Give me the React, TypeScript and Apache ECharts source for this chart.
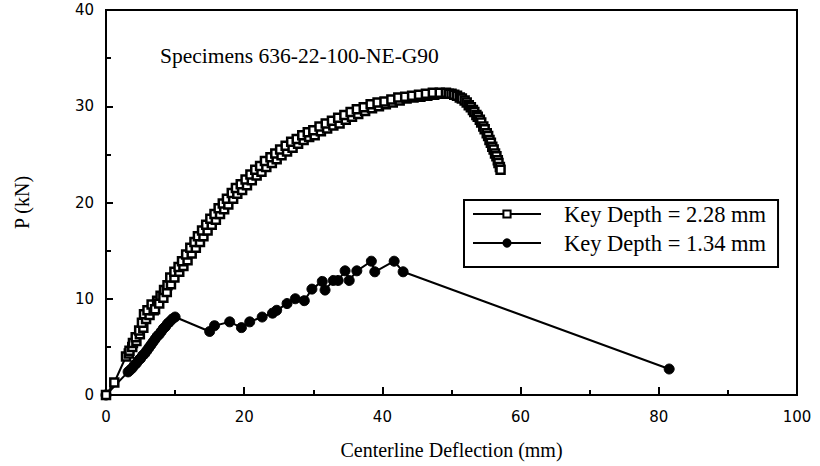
import React, { useEffect, useRef } from "react";
import * as echarts from "echarts";

const TITLE = "Specimens 636-22-100-NE-G90";
const X_NAME = "Centerline Deflection (mm)";
const Y_NAME = "P (kN)";
const SERIES_NAMES = ["Key Depth = 2.28 mm", "Key Depth = 1.34 mm"];

// Key Depth = 2.28 mm (open squares)
const s1x = [0, 1.2, 2.9, 3.3, 3.4, 3.8, 3.9, 4.4, 4.3, 4.9, 4.8, 5.4, 5.2, 5.8, 5.5, 6.3, 6.0, 6.9, 6.6, 7.1, 7.4, 7.7, 7.9, 8.3, 8.4, 8.8, 8.9, 9.4, 9.3, 9.9, 9.9, 10.6, 10.5, 11.2, 11.0, 11.8, 11.6, 12.4, 12.2, 13.0, 12.8, 13.6, 13.3, 14.1, 13.9, 14.7, 14.5, 15.3, 15.1, 15.9, 15.7, 16.5, 16.3, 17.1, 16.9, 17.7, 17.5, 18.4, 18.2, 19.0, 18.8, 19.7, 19.5, 20.4, 20.2, 21.1, 20.9, 21.8, 21.6, 22.5, 22.3, 23.2, 23.0, 24.0, 23.8, 24.7, 24.5, 25.4, 25.2, 26.2, 26.0, 27.0, 26.8, 27.8, 27.6, 28.6, 28.4, 29.4, 29.2, 30.2, 30.0, 31.1, 30.9, 32.0, 31.8, 32.9, 32.7, 33.8, 33.6, 34.7, 34.5, 35.6, 35.4, 36.5, 36.3, 37.5, 37.3, 38.5, 38.3, 39.5, 39.3, 40.5, 40.3, 41.5, 41.3, 42.5, 42.3, 43.5, 43.3, 44.5, 44.3, 45.5, 45.3, 46.5, 46.3, 47.5, 47.3, 48.5, 48.3, 49.2, 49.6, 50.0, 50.4, 50.8, 51.2, 51.5, 51.9, 52.2, 52.5, 52.8, 53.1, 53.3, 53.6, 53.8, 54.1, 54.3, 54.6, 54.8, 55.1, 55.3, 55.5, 55.7, 55.9, 56.1, 56.3, 56.5, 56.7, 56.8, 57.0, 57.1];
const s1y = [0, 1.3, 4.0, 4.3, 4.6, 5.0, 5.4, 5.6, 6.0, 6.3, 6.7, 7.0, 7.5, 7.9, 8.4, 8.3, 8.8, 8.8, 9.4, 8.9, 9.8, 9.5, 10.3, 10.1, 10.9, 10.7, 11.4, 11.5, 12.2, 12.2, 12.8, 12.8, 13.3, 13.4, 13.9, 14.0, 14.6, 14.7, 15.3, 15.3, 15.9, 15.9, 16.5, 16.5, 17.1, 17.1, 17.7, 17.7, 18.3, 18.2, 18.8, 18.8, 19.4, 19.3, 19.9, 19.8, 20.4, 20.4, 21.0, 20.9, 21.5, 21.3, 21.9, 21.8, 22.4, 22.3, 22.9, 22.8, 23.4, 23.2, 23.8, 23.7, 24.3, 24.1, 24.7, 24.5, 25.1, 24.9, 25.5, 25.3, 25.9, 25.7, 26.3, 26.1, 26.6, 26.5, 27.0, 26.8, 27.3, 27.0, 27.5, 27.4, 27.9, 27.7, 28.2, 28.0, 28.5, 28.2, 28.8, 28.6, 29.1, 28.9, 29.4, 29.2, 29.7, 29.5, 29.9, 29.8, 30.2, 30.0, 30.4, 30.2, 30.5, 30.4, 30.7, 30.6, 30.9, 30.8, 31.0, 30.9, 31.1, 31.0, 31.2, 31.1, 31.3, 31.2, 31.4, 31.3, 31.4, 31.4, 31.3, 31.3, 31.2, 31.1, 30.9, 30.8, 30.6, 30.4, 30.1, 29.9, 29.6, 29.4, 29.1, 28.9, 28.6, 28.3, 27.9, 27.6, 27.2, 26.9, 26.5, 26.2, 25.8, 25.5, 25.1, 24.8, 24.4, 24.1, 23.7, 23.4];

// Key Depth = 1.34 mm (filled circles)
const s2x = [0, 3.2, 3.5, 3.8, 4.1, 4.4, 4.7, 5.0, 5.3, 5.6, 5.9, 6.2, 6.5, 6.8, 7.1, 7.4, 7.7, 8.0, 8.3, 8.6, 8.9, 9.2, 9.6, 10.0, 15.0, 15.7, 17.9, 19.6, 20.8, 22.6, 24.1, 24.7, 26.2, 27.4, 28.7, 29.8, 31.3, 31.7, 32.9, 33.6, 34.6, 35.2, 36.3, 38.4, 38.9, 41.7, 43.0, 81.5];
const s2y = [0, 2.4, 2.6, 2.8, 3.1, 3.3, 3.6, 3.8, 4.1, 4.3, 4.6, 4.9, 5.2, 5.5, 5.8, 6.1, 6.3, 6.6, 6.9, 7.1, 7.4, 7.6, 7.9, 8.1, 6.6, 7.2, 7.6, 7.0, 7.6, 8.1, 8.5, 8.8, 9.5, 10.0, 9.8, 11.0, 11.8, 10.9, 11.9, 11.9, 12.9, 11.9, 12.9, 13.9, 12.8, 13.9, 12.8, 2.7];

const serif = "'Liberation Serif', 'Times New Roman', serif";
const sans = "'DejaVu Sans', sans-serif";

export default function App() {
  const ref = useRef<HTMLDivElement>(null);
  useEffect(() => {
    if (!ref.current) return;
    const chart = echarts.init(ref.current, null, { renderer: "svg" });
    const d1 = s1x.map((x, i) => [x, s1y[i]]);
    const d2 = s2x.map((x, i) => [x, s2y[i]]);
    chart.setOption({
      animation: false,
      backgroundColor: "#fff",
      grid: {
        left: 106,
        right: 23,
        top: 10,
        bottom: 71,
        outerBoundsMode: "none",
        containLabel: false,
        show: true,
        borderColor: "#000",
        borderWidth: 2,
        backgroundColor: "transparent",
      },
      graphic: [
        {
          type: "text",
          left: 160,
          top: 45,
          style: { text: TITLE, font: `21.5px ${serif}`, fill: "#000" },
        },
      ],
      legend: {
        orient: "vertical",
        left: 464,
        top: 200,
        padding: [1, 12, 11, 8],
        itemGap: 3,
        itemWidth: 68,
        itemHeight: 9,
        borderColor: "#000",
        borderWidth: 2,
        borderRadius: 0,
        textStyle: {
          fontFamily: serif,
          fontSize: 22.5,
          lineHeight: 26,
          color: "#000",
          padding: [0, 0, 0, 18],
        },
        data: SERIES_NAMES,
      },
      xAxis: {
        type: "value",
        min: 0,
        max: 100,
        interval: 20,
        name: X_NAME,
        nameLocation: "middle",
        nameGap: 45,
        nameTextStyle: { fontFamily: serif, fontSize: 20, color: "#000" },
        axisLine: { show: true, lineStyle: { color: "#000", width: 2 } },
        axisTick: { show: true, inside: true, length: 8, lineStyle: { color: "#000", width: 2 } },
        minorTick: { show: true, splitNumber: 2, length: 5, lineStyle: { color: "#000", width: 2 } },
        axisLabel: { fontFamily: sans, fontSize: 15, color: "#000", margin: 14 },
        splitLine: { show: false },
      },
      yAxis: {
        type: "value",
        min: 0,
        max: 40,
        interval: 10,
        name: Y_NAME,
        nameLocation: "middle",
        nameGap: 74,
        nameRotate: 90,
        nameTextStyle: { fontFamily: serif, fontSize: 20, color: "#000" },
        axisLine: { show: true, lineStyle: { color: "#000", width: 2 } },
        axisTick: { show: true, inside: true, length: 7, lineStyle: { color: "#000", width: 2 } },
        minorTick: { show: true, splitNumber: 2, length: 5, lineStyle: { color: "#000", width: 2 } },
        axisLabel: { fontFamily: sans, fontSize: 15, color: "#000", margin: 12 },
        splitLine: { show: false },
      },
      series: [
        {
          name: SERIES_NAMES[0],
          type: "line",
          data: d1,
          symbol: "rect",
          symbolSize: 8,
          showAllSymbol: true,
          lineStyle: { color: "#000", width: 2 },
          itemStyle: { color: "#fff", borderColor: "#000", borderWidth: 2.5 },
          z: 3,
        },
        {
          name: SERIES_NAMES[1],
          type: "line",
          data: d2,
          symbol: "circle",
          symbolSize: 10,
          showAllSymbol: true,
          lineStyle: { color: "#000", width: 2 },
          itemStyle: { color: "#000", borderColor: "#000", borderWidth: 1 },
          z: 2,
        },
      ],
    });
    return () => chart.dispose();
  }, []);
  return <div ref={ref} style={{ width: 820, height: 466, position: "absolute", left: 0, top: 0 }} />;
}
